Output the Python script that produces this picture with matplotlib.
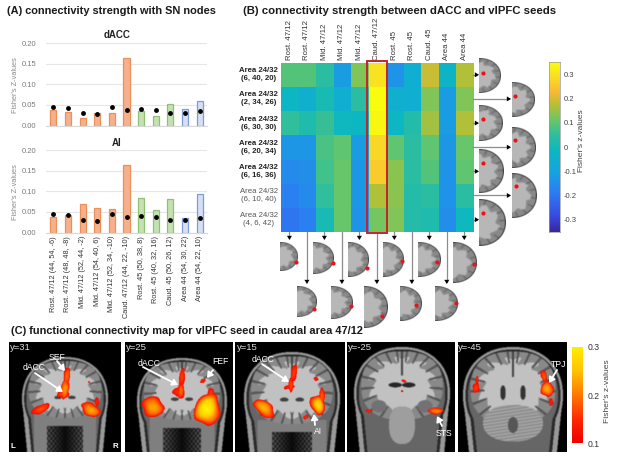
import numpy as np
import matplotlib
matplotlib.use("Agg")
import matplotlib.pyplot as plt
from matplotlib.colors import LinearSegmentedColormap
from matplotlib.patches import Rectangle

plt.rcParams['font.family'] = ['Liberation Sans', 'DejaVu Sans']

W, H = 617, 458

seed_labels = ["Rost. 47/12 (44, 54, -6)", "Rost. 47/12 (48, 48, -8)", "Mid. 47/12 (52, 44, -2)",
               "Mid. 47/12 (54, 40, 6)", "Mid. 47/12 (52, 34, -10)", "Caud. 47/12 (44, 22, -10)",
               "Rost. 45 (50, 38, 8)", "Rost. 45 (40, 32, 16)", "Caud. 45 (50, 26, 12)",
               "Area 44 (54, 30, 22)", "Area 44 (54, 22, 10)"]
dacc_bars = [.038, .032, .017, .031, .030, .163, .036, .024, .052, .041, .059]
dacc_dots = [.044, .042, .031, .029, .044, .038, .039, .038, .031, .031, .036]
ai_bars = [.038, .043, .068, .060, .057, .163, .083, .054, .082, .034, .094]
ai_dots = [.044, .042, .030, .028, .044, .038, .039, .038, .031, .031, .035]
bar_groups = ["o"] * 6 + ["g"] * 3 + ["b"] * 2
bar_ticks = [0, .05, .10, .15, .20]

col_labels = ["Rost. 47/12", "Rost. 47/12", "Mid. 47/12", "Mid. 47/12", "Mid. 47/12", "Caud. 47/12",
              "Rost. 45", "Rost. 45", "Caud. 45", "Area 44", "Area 44"]
row_labels = ["Area 24/32\n(6, 40, 20)", "Area 24/32\n(2, 34, 26)", "Area 24/32\n(6, 30, 30)",
              "Area 24/32\n(6, 20, 34)", "Area 24/32\n(6, 16, 36)", "Area 24/32\n(6, 10, 40)",
              "Area 24/32\n(4, 6, 42)"]
row_bold = [True, True, True, True, True, False, False]
row1 = [.09, .09, .04, -.12, .13, .30, -.14, -.06, .19, -.03, .17]
row2 = [-.02, -.05, .01, -.06, .04, .35, -.05, -.06, .13, -.12, .13]
row3 = [.05, .02, .06, -.01, -.02, .34, -.02, .03, .16, -.12, .17]
row4 = [-.13, -.13, .08, .10, -.12, .28, .10, .04, .10, -.13, .11]
row5 = [-.16, -.15, .07, .11, -.13, .26, .14, .04, .09, -.14, .10]
row6 = [-.18, -.16, .05, .11, -.13, .17, .14, .03, .04, -.14, .04]
row7 = [-.20, -.18, .01, .11, -.14, .12, .13, .03, .02, -.15, -.01]
cb_ticks = [.3, .2, .1, 0, -.1, -.2, -.3]
cb_ticklabels = ["0.3", "0.2", "0.1", "0", "-0.1", "-0.2", "-0.3"]
heat_ticks = [.1, .2, .3]

parula = LinearSegmentedColormap.from_list("p", [
    (0.00, (.22, .15, .62)), (0.10, (.22, .30, .90)), (0.24, (.17, .50, .95)),
    (0.36, (.08, .65, .87)), (0.48, (.05, .72, .76)), (0.58, (.20, .75, .60)),
    (0.66, (.42, .78, .40)), (0.75, (.72, .75, .20)), (0.82, (.97, .72, .22)),
    (0.90, (.98, .85, .15)), (1.00, (.98, 1.0, .05))])
hot_cmap = LinearSegmentedColormap.from_list("h", ["#ee0000", "#ff2a00", "#ff7a00", "#ffc400", "#fff000"])


def ax_px(fig, x0, y0, x1, y1, **kw):
    return fig.add_axes([x0 / W, 1 - y1 / H, (x1 - x0) / W, (y1 - y0) / H], **kw)


def blur(a, n=3):
    k = np.ones(n) / n
    pad = np.pad(a, n, mode="edge")
    pad = np.apply_along_axis(lambda m: np.convolve(m, k, mode="same"), 0, pad)
    pad = np.apply_along_axis(lambda m: np.convolve(m, k, mode="same"), 1, pad)
    return pad[n:-n, n:-n]


fig = plt.figure(figsize=(W / 100, H / 100), dpi=100)
ov = fig.add_axes([0, 0, 1, 1])
ov.set_axis_off()


def T(x, y, s, **kw):
    kw.setdefault("va", "center")
    kw.setdefault("ha", "left")
    return ov.text(x, y, s, **kw)


# ---------- panel A ----------
face = {"o": "#F4B18D", "g": "#C6E0B4", "b": "#D5E0F4"}
edge = {"o": "#EE8F58", "g": "#8FC175", "b": "#7F9DD4"}


def bars(y20, y0, vals, dots, title, ty, xlabels):
    ax = ax_px(fig, 46, y20 - 1.6, 207, y0, facecolor="none")
    x = np.arange(len(vals))
    ax.bar(x, vals, width=.42, color=[face[g] for g in bar_groups],
           edgecolor=[edge[g] for g in bar_groups], linewidth=.9, zorder=2)
    ax.plot(x, dots, "o", color="black", ms=3.5, mew=0, zorder=3, ls="none")
    ax.set_xlim(-.5, 10.5)
    ax.set_ylim(0, .204)
    ax.set_yticks(bar_ticks)
    ax.set_yticklabels([f"{t:.2f}" for t in bar_ticks], fontsize=5.5, color="#7a7a7a")
    ax.grid(axis="y", color="#e6e6e6", lw=.8, zorder=0)
    for s in ["top", "right", "left"]:
        ax.spines[s].set_visible(False)
    ax.spines["bottom"].set_color("#d8d8d8")
    ax.tick_params(axis="both", length=0, pad=7)
    ax.set_xticks(x)
    if xlabels:
        ax.set_xticklabels(xlabels, rotation=90, fontsize=5.35, color="#333333")
        ax.tick_params(axis="x", pad=2.5)
    else:
        ax.set_xticklabels([])
    T(117, ty, title, ha="center", fontsize=7.0, fontweight="bold", color="#222222")
    T(15.5, (y20 + y0) / 2 + 1, "Fisher's Z-values", rotation=90, ha="center", fontsize=5.3, color="#8a8a8a")


bars(43, 125.5, dacc_bars, dacc_dots, "dACC", 34.5, None)
bars(150, 232.5, ai_bars, ai_dots, "AI", 143, seed_labels)

T(7, 11, "(A) connectivity strength with SN nodes", fontsize=7.95, fontweight="bold", color="#1a1a1a")
T(243, 11, "(B) connectivity strength between dACC and vlPFC seeds", fontsize=8.2, fontweight="bold", color="#1a1a1a")
T(11, 331, "(C) functional connectivity map for vlPFC seed in caudal area 47/12", fontsize=7.95,
  fontweight="bold", color="#1a1a1a")

# ---------- panel B ----------
hm = ax_px(fig, 280.7, 62.7, 473, 231.7)
data = np.array([row1, row2, row3, row4, row5, row6, row7])
hm.imshow(data, cmap=parula, vmin=-.354, vmax=.354, aspect="auto", interpolation="nearest")
hm.set_xticks([])
hm.set_yticks([])
for s in hm.spines.values():
    s.set_visible(False)
cw = (473 - 280.7) / 11
rh = (231.7 - 62.7) / 7
for i, lab_ in enumerate(col_labels):
    T(280.7 + cw * (i + .5), 59.5, lab_, rotation=90, ha="center", va="bottom", fontsize=5.6, color="#333333")
for i, lab_ in enumerate(row_labels):
    T(278, 62.7 + rh * (i + .5), lab_, ha="right", ma="center", fontsize=5.6, linespacing=1.2,
      fontweight="bold" if row_bold[i] else "normal", color="#222222" if row_bold[i] else "#555555")
ov.add_patch(Rectangle((367, 61.2), 20, 171.3, fill=False, ec="#c8222a", lw=1.4, zorder=6))

cb = ax_px(fig, 549, 62, 560, 232)
cb.imshow(np.linspace(.354, -.354, 256)[:, None], cmap=parula, vmin=-.354, vmax=.354, aspect="auto",
          extent=[0, 1, -.354, .354])
cb.set_xticks([])
cb.yaxis.tick_right()
cb.set_yticks(cb_ticks)
cb.set_yticklabels(cb_ticklabels, fontsize=5.5, color="#444444")
cb.tick_params(length=0, pad=2.5)
for s in cb.spines.values():
    s.set_color("#999999")
    s.set_linewidth(.5)
T(581.5, 141, "Fisher's z-values", rotation=90, ha="center", fontsize=6.0, color="#444444")


# ---------- small brain slices ----------
def small_brain(x0, y0, x1, y1, dx, dy, k=0):
    n = 4
    w, h = int((x1 - x0) * n), int((y1 - y0) * n)
    yy, xx = np.mgrid[0:h, 0:w]
    u = (xx + .5) / w
    v = (yy + .5) / h * 2 - 1
    r = (u ** 2.1 + np.abs(v) ** 2.1) ** (1 / 2.1)
    th = np.arctan2(v, u + .12)
    sul = np.sin(th * (9 + k % 3) + 2 * np.sin(r * 4 + k))
    img = np.where(r < .70 + .09 * sul, .72, .54)
    img = np.where((r > .74) & (np.sin(th * 17 + k) > .82), .42, img)
    img = blur(img, 7)
    img = np.where(r > .955, .28, img)
    rgba = np.dstack([img, img, img, blur((r < 1) * 1.0, 3)])
    ov.imshow(rgba, extent=[x0, x1, y1, y0], interpolation="bilinear", aspect="auto", zorder=3)
    ov.plot([dx], [dy], "o", color="#e8141c", ms=3.0, mew=0, zorder=4)


right_slices = [(479, 58, 501, 93, 483, 73), (479, 105, 503, 141, 483, 119), (479, 149, 504, 193, 483, 163),
                (479, 199, 506, 246, 483, 213), (512, 82, 535, 117, 515, 96), (512, 127, 536, 168, 515, 140),
                (512, 173, 537, 218, 516, 186)]
bottom_slices = [(280, 242, 298, 271, 296, 262), (313, 242, 334, 274, 333, 263), (348, 242, 369, 277, 367, 268),
                 (383, 242, 404, 277, 402, 261), (418, 242, 441, 277, 437, 262), (453, 242, 477, 283, 474, 264),
                 (297, 286, 317, 317, 314, 309), (331, 286, 353, 319, 351, 306), (364, 286, 388, 328, 382, 316),
                 (400, 286, 422, 321, 416, 305), (435, 286, 458, 321, 456, 303)]
for k, s in enumerate(right_slices + bottom_slices):
    small_brain(*s, k=k)


def connector(x0, y0, x1, y1):
    ov.plot([x0, x1], [y0, y1], color="#8c8c8c", lw=.9, zorder=2)
    ov.annotate("", xy=(x1 + (x1 > x0) * 2, y1 + (y1 > y0) * 2), xytext=(x0 + (x1 - x0) * .6, y0 + (y1 - y0) * .6),
                arrowprops=dict(arrowstyle="-|>,head_width=.18,head_length=.3", color="black", lw=0, shrinkA=0,
                                shrinkB=0), zorder=3)


for i in range(7):
    yc = 62.7 + rh * (i + .5)
    if i % 2 == 0:
        connector(473, yc, 477, yc)
    else:
        connector(473, yc, 509, yc)
for i in range(11):
    xc = 280.7 + cw * (i + .5)
    if i % 2 == 0:
        connector(xc, 232, xc, 238)
    else:
        connector(xc, 232, xc, 282)


# ---------- panel C ----------
def ell(X, Y, cx, cy, rx, ry, p=2.0):
    return (np.abs(X - cx) / rx) ** p + (np.abs(Y - cy) / ry) ** p


def coronal(x0, y0, x1, y1, cx, top, rx, brain_bottom, blobs, kind="anterior"):
    X, Y = np.meshgrid(np.arange(x0, x1, .5) + .25, np.arange(y0, y1, .5) + .25)
    img = np.zeros_like(X)
    ry = rx * .97
    cy = top + ry
    widen = np.clip((Y - cy) / (y1 - cy), 0, 1)
    outer = ell(X, Y, cx, cy, rx, ry, 2.2)
    lower = (Y > cy) & (np.abs(X - cx) < rx * (1 - .12 * widen))
    head = (outer < 1) | lower
    img[head] = .60
    skull = (ell(X, Y, cx, cy, rx * .95, ry * .95, 2.2) < 1) | ((Y > cy) & (np.abs(X - cx) < rx * (.9 - .12 * widen)))
    img[skull] = .16
    inner = (ell(X, Y, cx, cy, rx * .90, ry * .90, 2.2) < 1) | ((Y > cy) & (np.abs(X - cx) < rx * (.84 - .12 * widen)))
    img[inner] = .40
    if kind == "anterior":
        low = (Y > brain_bottom - 4) & (np.abs(X - cx) < rx * .72)
        img[low] = .50
        nose = (Y > brain_bottom + 8) & (np.abs(X - cx) < rx * .42)
        tex = .5 + .5 * np.sin(X * 1.5) * np.sin(Y * 1.2)
        img[nose] = (.04 + .40 * tex * np.abs(X - cx) / (rx * .42))[nose]
    bry = (brain_bottom - top - rx * .09) / 2
    bcy = brain_bottom - bry
    Rb = np.sqrt(ell(X, Y, cx, bcy, rx * .85, bry, 2.4))
    th = np.arctan2(Y - bcy, np.abs(X - cx))
    sul = np.sin(th * 11 + 3 * np.sin(Rb * 5))
    brain = Rb < 1
    b = np.where(Rb < .70 + .12 * sul, .76, .54)
    b = np.where((Rb > .62) & (np.sin(th * 21) > .78), .34, b)
    img[brain] = b[brain]
    mid = (np.abs(X - cx) < .9) & (Y < bcy - bry * .3)
    img[mid & brain] = .26
    if kind == "anterior":
        vent = ell(np.abs(X - cx), Y, rx * .16, bcy + bry * .28, rx * .09, bry * .06) < 1
        img[vent] = .25
    elif kind == "mid":
        vent = ell(np.abs(X - cx), Y, rx * .14, bcy - bry * .02, rx * .14, bry * .07) < 1
        img[vent] = .15
        stem = ell(X, Y, cx, bcy + bry * 1.15, rx * .27, bry * .55, 2.4) < 1
        img[stem] = .62
        hip = ell(np.abs(X - cx), Y, rx * .48, bcy + bry * .6, rx * .16, bry * .18) < 1
        img[hip] = .45
    else:
        vent = ell(np.abs(X - cx), Y, rx * .2, bcy + bry * .12, rx * .055, bry * .2) < 1
        img[vent] = .2
        cer = ell(X, Y, cx, bcy + bry * .95, rx * .6, bry * .5, 2.2) < 1
        img[cer] = (.60 + .07 * np.sin(Y * 2.0 + X * .3))[cer]
        stem = ell(X, Y, cx, bcy + bry * 1.0, rx * .1, bry * .22, 2) < 1
        img[stem] = .34
    img = blur(img, 3)
    rgb = np.dstack([img, img, img])
    field = np.zeros_like(X)
    for bx, by, brx, bry2, ang, peak in blobs:
        a = np.deg2rad(ang)
        dx, dy = X - bx, Y - by
        p = (dx * np.cos(a) + dy * np.sin(a)) / brx
        q = (-dx * np.sin(a) + dy * np.cos(a)) / bry2
        wob = 1 + .18 * np.sin(p * 4 + q * 3 + bx)
        field = np.maximum(field, peak * np.clip(1 - (p ** 2 + q ** 2) * wob, 0, 1) ** .8)
    m = field > .01
    col = hot_cmap(np.clip(field, 0, 1))[..., :3]
    rgb[m] = col[m]
    ov.imshow(rgb, extent=[x0, x1, y1, y0], interpolation="bilinear", aspect="auto", zorder=3)


coronal(9, 342, 121, 452, 65, 357, 43, 418,
        [(67, 376, 3.2, 9, 5, .45), (65, 389, 4, 10, 8, .6), (63, 394, 6, 4, 0, .35),
         (41, 409, 10, 4, -25, .35), (91, 410, 10, 6.5, 28, .65), (97, 402, 2.2, 4.5, 0, .2), (89, 382, 1, 1, 0, .2)])
coronal(125, 342, 233, 452, 182, 358, 45, 420,
        [(182, 377, 3, 9, 5, .3), (181, 391, 3.5, 8, 0, .45), (178, 392, 5.5, 4, 0, .25),
         (153, 407, 11, 10, 30, .65), (207, 409, 13, 16, 10, 1.0), (211, 393, 3, 5, 0, .3),
         (203, 381, 3, 2, -30, .2)])
coronal(235, 342, 345, 452, 292, 352, 48, 424,
        [(294, 373, 3, 9, 8, .3), (291, 385, 2.5, 7, 0, .35), (289, 387, 5.5, 2.2, -10, .2),
         (264, 408, 12, 7, 40, .7), (318, 405, 7, 10, -25, .85), (322, 396, 2.8, 8, 0, .4),
         (306, 417, 3, 2, -30, .25), (316, 379, 2.5, 1.8, 20, .15)])
coronal(347, 342, 455, 452, 402, 347, 48, 420,
        [(436, 411, 7.5, 3.2, 0, .55), (369, 411, 3.5, 1.5, 10, .2), (404, 381, 2.5, 1.3, 20, .2),
         (402, 391, 1.2, 1, 0, .15)], kind="mid")
coronal(458, 342, 567, 452, 513, 347, 50, 425,
        [(547, 389, 6.5, 7.5, 0, .65), (544, 376, 3, 6, -15, .4), (476, 388, 3.5, 5, 0, .3),
         (477, 380, 1.5, 4, 0, .2), (551, 402, 2, 4, 0, .2)], kind="posterior")


def lab(x, y, s, size=6.2, **kw):
    T(x, y, s, color="white", fontsize=size, zorder=8, **kw)


def arrow(x0, y0, x1, y1):
    ov.annotate("", xy=(x1, y1), xytext=(x0, y0), zorder=8,
                arrowprops=dict(arrowstyle="-|>,head_width=.2,head_length=.32", color="white", lw=1.3,
                                shrinkA=0, shrinkB=0))


for x, s in [(9.5, "y=31"), (126, "y=25"), (237, "y=15"), (347.5, "y=-25"), (458, "y=-45")]:
    T(x, 347.5, s, color="#dddddd", fontsize=6.8, zorder=8)
lab(13, 446, "L", size=5.8, fontweight="bold", ha="center")
lab(115.5, 446, "R", size=5.8, fontweight="bold", ha="center")
for x, y, s in [(57, 357, "SEF"), (34, 368, "dACC"), (149, 363, "dACC"), (220, 361, "FEF"), (263, 359.5, "dACC"),
                (318, 432, "AI"), (444, 434, "STS"), (559, 364.5, "TPJ")]:
    lab(x, y, s, ha="center")
for a in [(57, 361, 65, 371), (35, 373, 63, 392), (143, 367, 178, 385), (213, 370, 207, 378),
          (262, 364, 289, 382), (315, 425, 314, 414), (442, 426, 437, 416), (557, 370, 549, 383)]:
    arrow(*a)

cbh = ax_px(fig, 572, 347, 583, 443.5)
cbh.imshow(np.linspace(.3, .1, 256)[:, None], cmap=hot_cmap, aspect="auto", vmin=.1, vmax=.3, extent=[0, 1, .1, .3])
cbh.set_xticks([])
cbh.yaxis.tick_right()
cbh.set_yticks(heat_ticks)
cbh.set_yticklabels([f"{t:.1f}" for t in heat_ticks], fontsize=6.2, color="#333333")
cbh.tick_params(length=0, pad=3.5)
for s in cbh.spines.values():
    s.set_visible(False)
T(607.5, 391, "Fisher's z-values", rotation=90, ha="center", fontsize=6.1, color="#444444")

ov.set_xlim(0, W)
ov.set_ylim(H, 0)
ov.set_zorder(5)
ov.patch.set_alpha(0)
fig.savefig("out.png", dpi=100)
